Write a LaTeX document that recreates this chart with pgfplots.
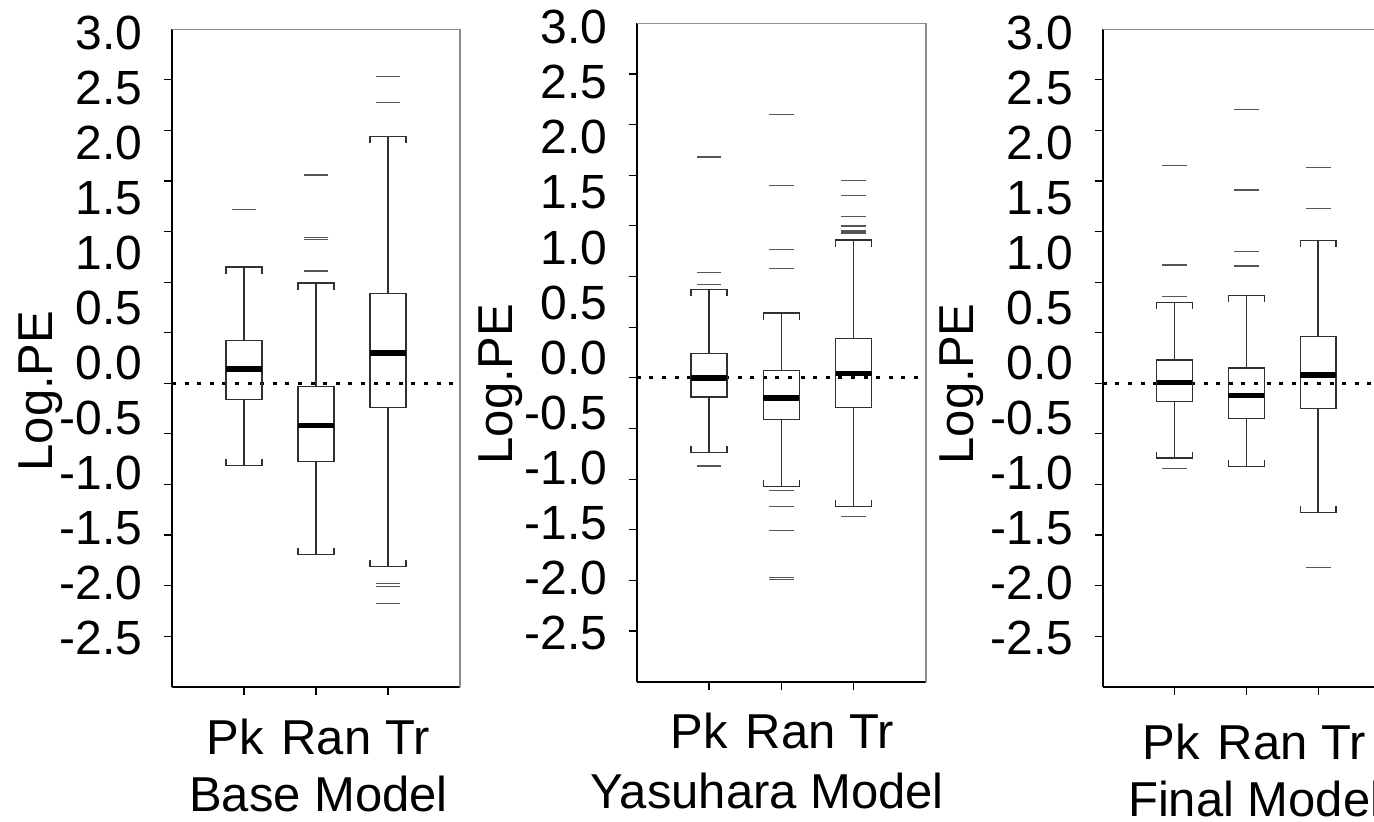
\documentclass[border=0pt]{standalone}
\usepackage{fontspec}
\setmainfont{Liberation Sans}
\usepackage{pgfplots}
\pgfplotsset{compat=1.18}
\usepgfplotslibrary{statistics}
\definecolor{boxgray}{HTML}{303030}
\definecolor{outgray}{HTML}{555555}
\definecolor{framegray}{HTML}{8C8C8C}

\pgfplotsset{
  boxplot/draw/lower whisker/.code={%
    \draw[/pgfplots/boxplot/every whisker/.try]
      (boxplot cs:\pgfplotsboxplotvalue{lower whisker}) -- (boxplot cs:\pgfplotsboxplotvalue{lower quartile});
    \draw[/pgfplots/boxplot/every whisker/.try]
      ([yshift=3.3pt]boxplot whisker cs:\pgfplotsboxplotvalue{lower whisker},0)
      -- (boxplot whisker cs:\pgfplotsboxplotvalue{lower whisker},0)
      -- (boxplot whisker cs:\pgfplotsboxplotvalue{lower whisker},1)
      -- ([yshift=3.3pt]boxplot whisker cs:\pgfplotsboxplotvalue{lower whisker},1);
  },
  boxplot/draw/upper whisker/.code={%
    \draw[/pgfplots/boxplot/every whisker/.try]
      (boxplot cs:\pgfplotsboxplotvalue{upper whisker}) -- (boxplot cs:\pgfplotsboxplotvalue{upper quartile});
    \draw[/pgfplots/boxplot/every whisker/.try]
      ([yshift=-3.3pt]boxplot whisker cs:\pgfplotsboxplotvalue{upper whisker},0)
      -- (boxplot whisker cs:\pgfplotsboxplotvalue{upper whisker},0)
      -- (boxplot whisker cs:\pgfplotsboxplotvalue{upper whisker},1)
      -- ([yshift=-3.3pt]boxplot whisker cs:\pgfplotsboxplotvalue{upper whisker},1);
  },
  boxplot/every median/.style={draw=black, line width=2.7pt},
  panel/.style={
    scale only axis, clip=false,
    xmin=0, xmax=4, ymin=-3, ymax=3.5,
    axis x line=bottom, axis y line=left,
    axis line style={black, line width=1.1pt, -},
    xtick={1,2,3}, xticklabels={},
    ytick={-2.5,-2,-1.5,-1,-0.5,0,0.5,1,1.5,2,2.5,3}, yticklabels={},
    extra y ticks={3.460,2.917,2.373,1.830,1.286,0.743,0.200,-0.344,-0.887,-1.431,-1.974,-2.518},
    extra y tick labels={3.0,2.5,2.0,1.5,1.0,0.5,0.0,-0.5,-1.0,-1.5,-2.0,-2.5},
    extra y tick style={major tick length=0pt},
    tick align=outside, major tick length=4pt,
    tick style={black, line width=0.6pt},
    yticklabel style={font=\fontsize{24}{28}\selectfont, inner sep=0pt, anchor=east, xshift=-14.5pt},
  },
}
\newcommand{\bx}[7]{%
  \addplot[boxplot/draw direction=y,
    boxplot prepared={draw position=#1, lower whisker=#2, lower quartile=#3,
      median=#4, upper quartile=#5, upper whisker=#6, box extend=0.5, whisker extend=0.5},
    draw=boxgray, line width=0.65pt, mark=-, mark size=6.2pt,
    mark options={draw=outgray, line width=0.6pt, solid}] #7;}
\newcommand{\zeroline}{\addplot[black, line width=1.5pt, dash pattern=on 2pt off 4.3pt] coordinates {(0,0) (4,0)};}
\newcommand{\frameTR}{\draw[framegray, line width=0.7pt] (rel axis cs:0,1) -- (rel axis cs:1,1) -- (rel axis cs:1,0);}
\newcommand{\cats}{Pk\hspace{9pt}Ran Tr}

\begin{document}
\begin{tikzpicture}
\tikzset{lab/.style={font=\fontsize{24.5}{28.5}\selectfont, inner sep=0pt, anchor=base}}

% ---------------- Base Model ----------------
\begin{axis}[panel, at={(86pt,67.65pt)}, anchor=south west, width=144pt, height=328.7pt]
\frameTR
\zeroline
\bx{1}{-0.81}{-0.16}{0.14}{0.42}{1.15}{table[row sep=\\,y index=0]{data\\1.72\\}}
\bx{2}{-1.69}{-0.77}{-0.42}{-0.03}{0.99}{table[row sep=\\,y index=0]{data\\2.06\\1.445\\1.425\\1.11\\}}
\bx{3}{-1.81}{-0.24}{0.30}{0.89}{2.44}{table[row sep=\\,y index=0]{data\\3.03\\2.78\\-1.98\\-2.01\\-2.18\\}}
\node[lab] at ([xshift=1pt,yshift=-34.15pt]rel axis cs:0.5,0) {\cats};
\node[lab] at ([xshift=1.25pt,yshift=-62.65pt]rel axis cs:0.5,0) {Base Model};
\node[lab, rotate=90] at ([xshift=-59.5pt]rel axis cs:0,0.4498) {Log.PE};
\end{axis}

% ---------------- Yasuhara Model ----------------
\begin{axis}[panel, at={(318.35pt,70.15pt)}, anchor=south west, width=144.6pt, height=329.2pt]
\frameTR
\zeroline
\bx{1}{-0.74}{-0.19}{0.0}{0.24}{0.87}{table[row sep=\\,y index=0]{data\\2.18\\1.04\\0.92\\-0.87\\}}
\bx{2}{-1.07}{-0.41}{-0.20}{0.07}{0.64}{table[row sep=\\,y index=0]{data\\2.60\\1.90\\1.27\\1.08\\-1.11\\-1.27\\-1.51\\-1.97\\-1.99\\}}
\bx{3}{-1.27}{-0.29}{0.04}{0.385}{1.36}{table[row sep=\\,y index=0]{data\\1.947\\1.798\\1.590\\1.498\\1.449\\1.429\\-1.37\\}}
\node[lab] at ([xshift=0.5pt,yshift=-33.3pt]rel axis cs:0.5,0) {\cats};
\node[lab] at ([xshift=-7pt,yshift=-63.3pt]rel axis cs:0.5,0) {Yasuhara Model};
\node[lab, rotate=90] at ([xshift=-62.3pt]rel axis cs:0,0.452) {Log.PE};
\end{axis}

% ---------------- Final Model ----------------
\begin{axis}[panel, at={(551.35pt,67.65pt)}, anchor=south west, width=143.6pt, height=328.7pt]
\frameTR
\zeroline
\bx{1}{-0.74}{-0.18}{0.01}{0.23}{0.80}{table[row sep=\\,y index=0]{data\\2.15\\1.17\\0.86\\-0.84\\}}
\bx{2}{-0.82}{-0.35}{-0.12}{0.15}{0.87}{table[row sep=\\,y index=0]{data\\2.71\\1.91\\1.30\\1.16\\}}
\bx{3}{-1.28}{-0.25}{0.08}{0.46}{1.41}{table[row sep=\\,y index=0]{data\\2.13\\1.73\\-1.82\\}}
\node[lab] at ([xshift=3.85pt,yshift=-36.65pt]rel axis cs:0.5,0) {\cats};
\node[lab] at ([xshift=4.25pt,yshift=-65pt]rel axis cs:0.5,0) {Final Model};
\node[lab, rotate=90] at ([xshift=-64.8pt]rel axis cs:0,0.4605) {Log.PE};
\end{axis}

\pgfresetboundingbox
\path[use as bounding box] (0,0) rectangle (687pt,411pt);
\end{tikzpicture}
\end{document}
